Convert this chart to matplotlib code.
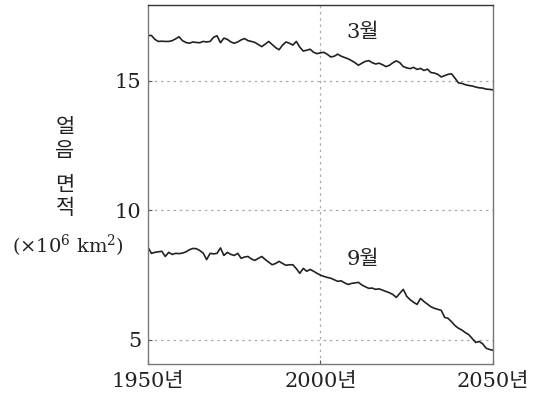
import numpy as np
import matplotlib
matplotlib.use("Agg")
import matplotlib.pyplot as plt

plt.rcParams['font.family'] = ['DejaVu Serif', 'Noto Sans CJK KR']
plt.rcParams['mathtext.fontset'] = 'dejavuserif'

years = list(range(1950, 2051))

march = [16.75, 16.75, 16.60, 16.52, 16.53, 16.52, 16.52, 16.55, 16.62, 16.70,
         16.55, 16.48, 16.45, 16.50, 16.48, 16.47, 16.52, 16.50, 16.52, 16.68,
         16.74, 16.47, 16.65, 16.60, 16.50, 16.45, 16.50, 16.58, 16.63, 16.55,
         16.52, 16.48, 16.40, 16.32, 16.42, 16.52, 16.40, 16.28, 16.20, 16.38,
         16.50, 16.45, 16.38, 16.52, 16.30, 16.15, 16.18, 16.22, 16.10, 16.05,
         16.08, 16.10, 16.02, 15.92, 15.95, 16.03, 15.95, 15.90, 15.85, 15.78,
         15.70, 15.60, 15.68, 15.75, 15.78, 15.70, 15.65, 15.68, 15.62, 15.55,
         15.60, 15.70, 15.77, 15.70, 15.55, 15.50, 15.47, 15.52, 15.44, 15.48,
         15.40, 15.45, 15.32, 15.30, 15.25, 15.15, 15.20, 15.25, 15.27, 15.10,
         14.92, 14.90, 14.85, 14.82, 14.80, 14.76, 14.73, 14.72, 14.68, 14.67,
         14.65]

september = [8.57, 8.34, 8.38, 8.40, 8.42, 8.22, 8.38, 8.30, 8.34, 8.33,
             8.35, 8.40, 8.48, 8.53, 8.52, 8.45, 8.35, 8.10, 8.34, 8.32,
             8.34, 8.55, 8.26, 8.38, 8.30, 8.26, 8.34, 8.15, 8.20, 8.22,
             8.12, 8.07, 8.15, 8.22, 8.10, 8.00, 7.90, 7.95, 8.03, 7.95,
             7.88, 7.90, 7.90, 7.75, 7.57, 7.76, 7.65, 7.72, 7.65, 7.57,
             7.50, 7.45, 7.41, 7.38, 7.32, 7.26, 7.28, 7.20, 7.14, 7.18,
             7.20, 7.22, 7.12, 7.05, 6.99, 7.00, 6.95, 6.97, 6.92, 6.87,
             6.82, 6.75, 6.64, 6.80, 6.95, 6.68, 6.55, 6.45, 6.37, 6.60,
             6.48, 6.38, 6.28, 6.22, 6.18, 6.14, 5.87, 5.83, 5.70, 5.55,
             5.45, 5.38, 5.28, 5.20, 5.05, 4.90, 4.94, 4.85, 4.68, 4.63,
             4.60]

xticks = [1950, 2000, 2050]
xtick_labels = ['1950년', '2000년', '2050년']
yticks = [5, 10, 15]
ylabel_chars = ['얼', '음', '면', '적']

fig = plt.figure(figsize=(5.39, 4.03), dpi=100)
ax = fig.add_axes([0.2746, 0.0968, 0.640, 0.891])

ax.plot(years, march, color='#222222', lw=1.2)
ax.plot(years, september, color='#222222', lw=1.2)

ax.set_xlim(1950, 2050)
ax.set_ylim(4.07, 17.93)
ax.set_xticks(xticks)
ax.set_xticklabels(xtick_labels)
ax.set_yticks(yticks)
ax.tick_params(direction='in', length=3, labelsize=15, color='#555555',
               labelcolor='#222222')
ax.tick_params(axis='x', pad=6)
ax.tick_params(axis='y', pad=5)

for y in yticks:
    ax.axhline(y, color='#aaaaaa', ls=(0, (2, 3)), lw=0.9, zorder=0)
ax.axvline(2000, color='#aaaaaa', ls=(0, (2, 3)), lw=0.9, zorder=0)

for s in ax.spines.values():
    s.set_color('#777777')
    s.set_linewidth(1.0)
ax.spines['top'].set_color('#333333')

ax.text(2012.3, 16.85, '3월', fontsize=15, ha='center', va='center', color='#222222')
ax.text(2012.3, 8.1, '9월', fontsize=15, ha='center', va='center', color='#222222')

# vertical Korean label, one character at a time
for ch, ypix in zip(ylabel_chars, [127, 151, 185, 208]):
    fig.text(65 / 539, 1 - ypix / 403, ch, fontsize=15, ha='center', va='center',
             family='Noto Sans CJK KR', color='#222222')
fig.text(68 / 539, 1 - 246 / 403, r'($\times$10$^6$ km$^2$)', fontsize=14,
         ha='center', va='center', color='#222222')

fig.savefig('out.png', dpi=100)
